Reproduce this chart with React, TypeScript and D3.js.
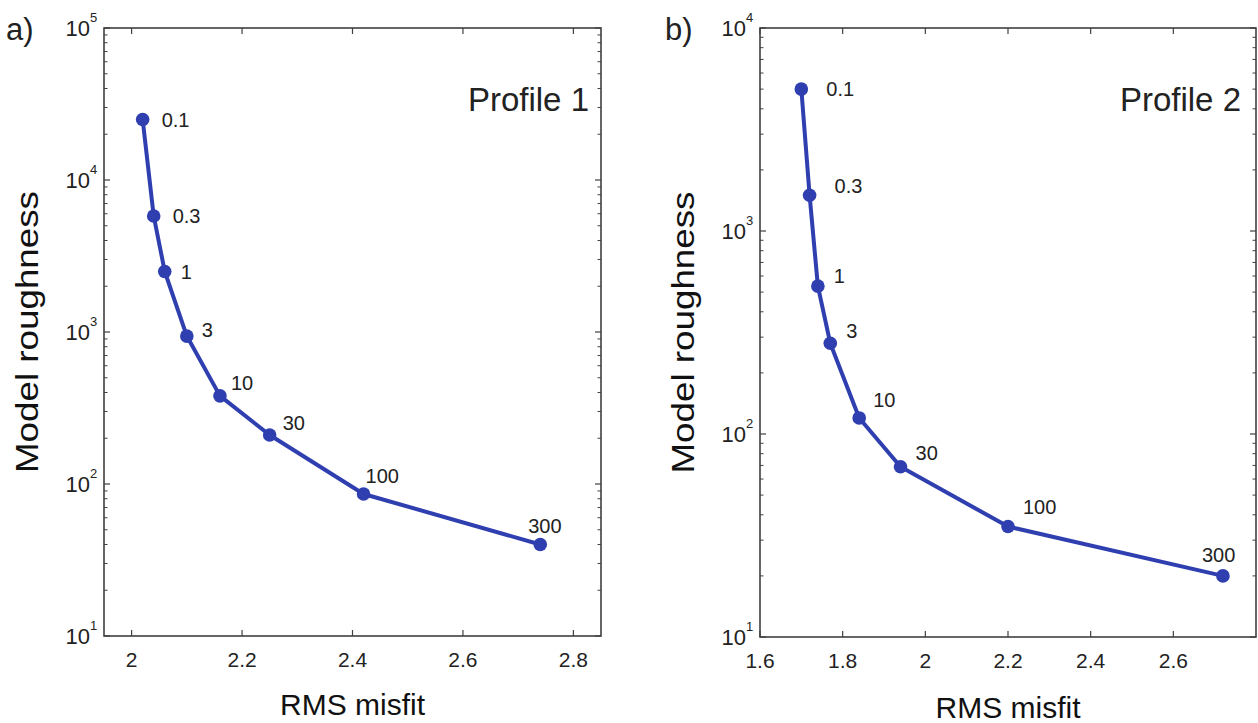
import React from "react";
import * as d3 from "d3";

// Panel a) Profile 1
const lambdaLabels = ["0.1", "0.3", "1", "3", "10", "30", "100", "300"];
const misfit1 = [2.02, 2.04, 2.06, 2.1, 2.16, 2.25, 2.42, 2.74];
const rough1 = [25000, 5800, 2500, 940, 380, 210, 86, 40];
const xTicks1 = [2, 2.2, 2.4, 2.6, 2.8];
const yTicks1 = [1, 2, 3, 4, 5];

// Panel b) Profile 2
const misfit2 = [1.7, 1.72, 1.74, 1.77, 1.84, 1.94, 2.2, 2.72];
const rough2 = [5000, 1500, 535, 280, 120, 69, 35, 20];
const xTicks2 = [1.6, 1.8, 2, 2.2, 2.4, 2.6];
const yTicks2 = [1, 2, 3, 4];

// label offsets (style)
const off1 = [[19, 0], [19, 0], [16, 0], [15, -6], [11, -13], [13, -12], [2, -18], [-12, -18]];
const off2 = [[25, 0], [25, -9], [16, -10], [16, -12], [14, -18], [15, -14], [15, -20], [-21, -21]];

const FONT = "'Liberation Sans', Arial, Helvetica, sans-serif";
const BLUE = "#2f3fb0";
const AX = "#404040";

type PanelProps = {
  left: number; right: number; top: number; bottom: number;
  xDomain: [number, number]; yDomain: [number, number];
  xs: number[]; ys: number[]; xTicks: number[]; yTicks: number[];
  offs: number[][]; title: string; tag: string; tagX: number;
  titleX: number; ylabX: number; xlabY: number;
};

function Panel(p: PanelProps) {
  const x = d3.scaleLinear().domain(p.xDomain).range([p.left, p.right]);
  const y = d3.scaleLog().domain(p.yDomain).range([p.bottom, p.top]);
  const line = d3.line<number>().x((_, i) => x(p.xs[i])).y((_, i) => y(p.ys[i]));
  const minor: number[] = [];
  for (let e = p.yTicks[0]; e < p.yTicks[p.yTicks.length - 1]; e++) {
    for (let m = 2; m <= 9; m++) minor.push(m * Math.pow(10, e));
  }
  const major = 6, minorLen = 3.5;
  return (
    <g>
      <text x={p.tagX} y={40} fontSize={31} fontFamily={FONT} fill="#222">{p.tag}</text>
      <rect x={p.left} y={p.top} width={p.right - p.left} height={p.bottom - p.top}
        fill="none" stroke={AX} strokeWidth={1.6} />
      {p.xTicks.map((t) => (
        <g key={"x" + t}>
          <line x1={x(t)} x2={x(t)} y1={p.bottom} y2={p.bottom - major} stroke={AX} strokeWidth={1.2} />
          <line x1={x(t)} x2={x(t)} y1={p.top} y2={p.top + major} stroke={AX} strokeWidth={1.2} />
          <text x={x(t)} y={p.bottom + 31} textAnchor="middle" fontSize={21} fontFamily={FONT} fill="#222">
            {d3.format("~g")(t)}
          </text>
        </g>
      ))}
      {p.yTicks.map((e) => {
        const v = Math.pow(10, e);
        return (
          <g key={"y" + e}>
            <line x1={p.left} x2={p.left + major} y1={y(v)} y2={y(v)} stroke={AX} strokeWidth={1.2} />
            <line x1={p.right} x2={p.right - major} y1={y(v)} y2={y(v)} stroke={AX} strokeWidth={1.2} />
            <text x={p.left - 14} y={y(v) + 8} textAnchor="end" fontSize={22} fontFamily={FONT} fill="#222">10</text>
            <text x={p.left - 14} y={y(v) - 6} textAnchor="start" fontSize={13} fontFamily={FONT} fill="#222">{e}</text>
          </g>
        );
      })}
      {minor.map((v) => (
        <g key={"m" + v}>
          <line x1={p.left} x2={p.left + minorLen} y1={y(v)} y2={y(v)} stroke={AX} strokeWidth={1} />
          <line x1={p.right} x2={p.right - minorLen} y1={y(v)} y2={y(v)} stroke={AX} strokeWidth={1} />
        </g>
      ))}
      <path d={line(p.xs) || ""} fill="none" stroke={BLUE} strokeWidth={4} strokeLinejoin="round" />
      {p.xs.map((v, i) => (
        <circle key={"c" + i} cx={x(v)} cy={y(p.ys[i])} r={6.8} fill={BLUE} />
      ))}
      {p.xs.map((v, i) => (
        <text key={"l" + i} x={x(v) + p.offs[i][0]} y={y(p.ys[i]) + p.offs[i][1]}
          dominantBaseline="central" fontSize={20} fontFamily={FONT} fill="#222">
          {lambdaLabels[i]}
        </text>
      ))}
      <text x={p.titleX} y={99} dominantBaseline="central" textAnchor="end" fontSize={33} fontFamily={FONT} fill="#222">
        {p.title}
      </text>
      <text transform={`translate(${p.ylabX},${(p.top + p.bottom) / 2}) rotate(-90)`} textAnchor="middle"
        dominantBaseline="central" fontSize={32} fontFamily={FONT} fill="#111"
        textLength={282} lengthAdjust="spacingAndGlyphs">
        Model roughness
      </text>
      <text x={(p.left + p.right) / 2} y={p.xlabY} textAnchor="middle" dominantBaseline="central"
        fontSize={30} fontFamily={FONT} fill="#111">
        RMS misfit
      </text>
    </g>
  );
}

export default function App() {
  return (
    <svg width={1258} height={723} style={{ position: "absolute", left: 0, top: 0, background: "#fff" }}>
      <Panel left={104} right={601} top={28} bottom={636} xDomain={[1.95, 2.85]} yDomain={[10, 1e5]}
        xs={misfit1} ys={rough1} xTicks={xTicks1} yTicks={yTicks1} offs={off1}
        title="Profile 1" tag="a)" tagX={6} titleX={589} ylabX={27} xlabY={704} />
      <Panel left={760} right={1256} top={28} bottom={637} xDomain={[1.6, 2.8]} yDomain={[10, 1e4]}
        xs={misfit2} ys={rough2} xTicks={xTicks2} yTicks={yTicks2} offs={off2}
        title="Profile 2" tag="b)" tagX={665} titleX={1241} ylabX={683} xlabY={707} />
    </svg>
  );
}
